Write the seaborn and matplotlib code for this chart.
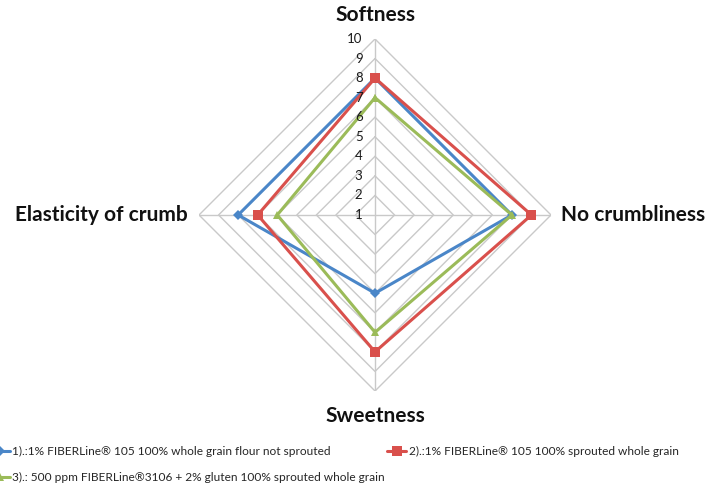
import numpy as np
import pandas as pd
import matplotlib
matplotlib.use("Agg")
import matplotlib.pyplot as plt
from matplotlib.lines import Line2D
import seaborn as sns

# Sensory attributes, clockwise from the top
categories = ["Softness", "No crumbliness", "Sweetness", "Elasticity of crumb"]

series_names = [
    "1).:1% FIBERLine® 105 100% whole grain flour not sprouted",
    "2).:1% FIBERLine® 105 100% sprouted whole grain",
    "3).: 500 ppm FIBERLine®3106 + 2% gluten 100% sprouted whole grain",
]
scores_1 = [8, 8, 5, 8]
scores_2 = [8, 9, 8, 7]
scores_3 = [7, 8, 7, 6]

scale_ticks = [1, 2, 3, 4, 5, 6, 7, 8, 9, 10]

colors = ["#4A86C8", "#D9504C", "#9BBB59"]
markers = ["D", "s", "^"]
marker_sizes = [5, 7, 6]

sns.set_theme(style="white")
plt.rcParams["font.family"] = ["Lato", "DejaVu Sans"]

# Long-form table, each profile closed back onto its first attribute
n = len(categories)
angles = np.linspace(0, 2 * np.pi, n, endpoint=False)
angles_closed = np.append(angles, 2 * np.pi)
rows = []
for name, vals in zip(series_names, [scores_1, scores_2, scores_3]):
    closed = list(vals) + [vals[0]]
    for a, v in zip(angles_closed, closed):
        rows.append({"angle": a, "score": v, "sample": name})
df = pd.DataFrame(rows)

fig = plt.figure(figsize=(7.10, 4.91), dpi=100)
ax = fig.add_axes([0.2803, 0.2037, 0.4958, 0.7169], projection="polar")
ax.set_theta_zero_location("N")
ax.set_theta_direction(-1)
ax.set_ylim(scale_ticks[0], scale_ticks[-1])
ax.grid(False)
ax.spines["polar"].set_visible(False)
ax.set_xticks([])
ax.set_yticks([])
ax.patch.set_alpha(0)

# Diamond-shaped rings and spokes
grid_color = "#C9C9C9"
for k in scale_ticks[1:]:
    ax.plot(angles_closed, [k] * len(angles_closed), color=grid_color, lw=1.0, zorder=1)
for a in angles:
    ax.plot([a, a], [scale_ticks[0], scale_ticks[-1]], color=grid_color, lw=1.0, zorder=1)

sns.lineplot(
    data=df, x="angle", y="score", hue="sample", style="sample",
    palette=dict(zip(series_names, colors)),
    markers=dict(zip(series_names, markers)),
    dashes=False, sort=False, estimator=None, legend=False,
    lw=2.2, markeredgewidth=0, ax=ax, zorder=3,
)
for line, ms in zip([l for l in ax.get_lines() if l.get_zorder() == 3], marker_sizes):
    line.set_markersize(ms)
ax.set_xlabel("")
ax.set_ylabel("")

# Radial scale labels along the upper spoke
for k in scale_ticks:
    ax.annotate(str(k), xy=(0, k), xytext=(-9, 0), textcoords="offset points",
                ha="right", va="center", fontsize=9.5, color="#1a1a1a")

# Attribute names
label_offsets = [(0, 17, "center", "center"), (7, 0, "left", "center"),
                 (0, -18, "center", "center"), (-8, 0, "right", "center")]
for a, name, (dx, dy, ha, va) in zip(angles, categories, label_offsets):
    ax.annotate(name, xy=(a, scale_ticks[-1]), xytext=(dx, dy), textcoords="offset points",
                ha=ha, va=va, fontsize=15.0, fontweight="bold", color="#111111")

handles = [
    Line2D([], [], color=c, lw=2.2, marker=m, markersize=ms, markeredgewidth=0)
    for c, m, ms in zip(colors, markers, marker_sizes)
]
# Row-wise layout: entries 1 and 2 on the first row, entry 3 below
order = [0, 2, 1]
fig.legend([handles[i] for i in order], [series_names[i] for i in order],
           ncol=2, loc="upper left", bbox_to_anchor=(-0.02, 0.102),
           frameon=False, fontsize=8.6, handlelength=1.6, handletextpad=0.2,
           columnspacing=0.2, labelspacing=1.25, borderaxespad=0)

fig.savefig("out.png", dpi=100, facecolor="white")
